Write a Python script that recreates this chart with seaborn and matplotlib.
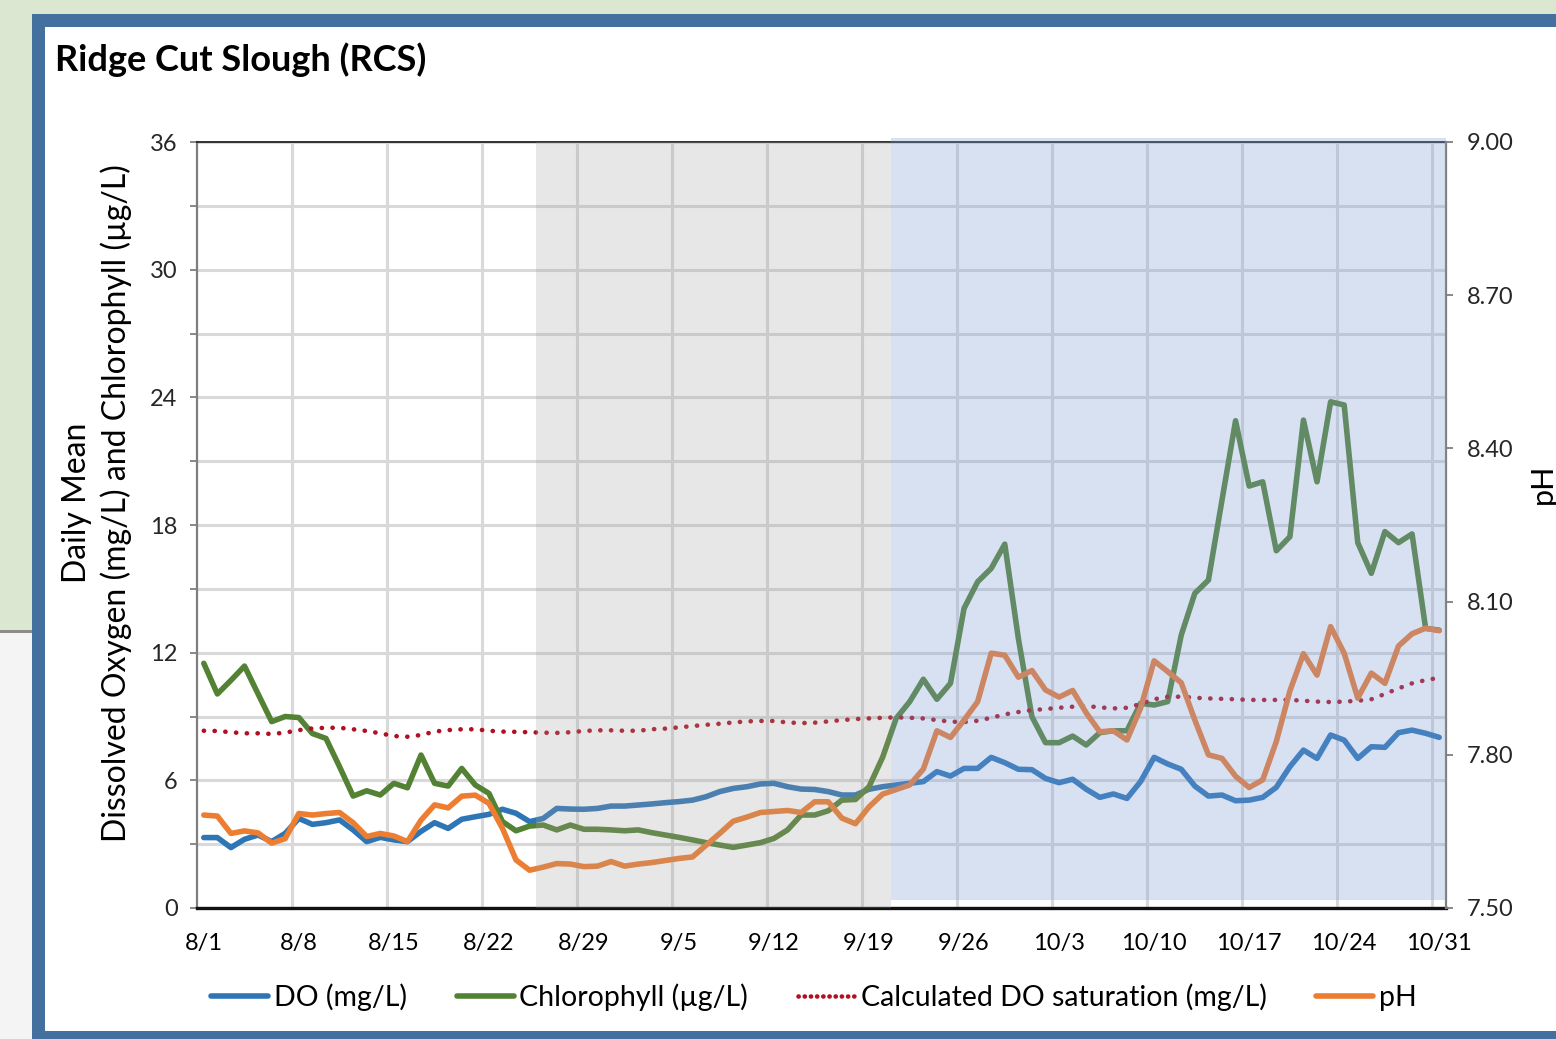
import numpy as np
import pandas as pd
import matplotlib
matplotlib.use("Agg")
import matplotlib.pyplot as plt
import matplotlib.transforms as mtransforms
from matplotlib.patches import Rectangle
from matplotlib.lines import Line2D
import seaborn as sns

# ---------------- data ----------------
dates = pd.date_range("2021-08-01", "2021-10-31", freq="D")
tick_labels = ["8/1", "8/8", "8/15", "8/22", "8/29", "9/5", "9/12", "9/19",
               "9/26", "10/3", "10/10", "10/17", "10/24", "10/31"]

do_mgl = [3.31, 3.31, 2.84, 3.23, 3.43, 3.12, 3.51, 4.21, 3.93, 4.01,
          4.14, 3.67, 3.12, 3.32, 3.20, 3.12, 3.60, 4.01, 3.74, 4.17,
          4.29, 4.40, 4.64, 4.45, 4.06, 4.21, 4.68, 4.65, 4.64, 4.68,
          4.79, 4.79, 4.84, 4.89, 4.95, 5.00, 5.07, 5.23, 5.47, 5.62,
          5.70, 5.83, 5.86, 5.70, 5.59, 5.57, 5.47, 5.31, 5.31, 5.58,
          5.70, 5.78, 5.86, 5.94, 6.41, 6.20, 6.56, 6.56, 7.08, 6.83,
          6.52, 6.50, 6.09, 5.89, 6.05, 5.58, 5.20, 5.36, 5.15, 5.94,
          7.08, 6.77, 6.52, 5.73, 5.26, 5.31, 5.04, 5.07, 5.20, 5.67,
          6.64, 7.42, 7.03, 8.13, 7.89, 7.03, 7.58, 7.55, 8.24, 8.36,
          8.21, 8.02]

chlorophyll = [11.50, 10.06, 10.70, 11.37, 10.06, 8.76, 9.00, 8.95, 8.20, 7.97,
               6.64, 5.26, 5.51, 5.31, 5.86, 5.65, 7.19, 5.86, 5.73, 6.56,
               5.78, 5.39, 4.06, 3.63, 3.85, 3.90, 3.67, 3.90, 3.70, 3.70,
               3.67, 3.63, 3.67, 3.54, 3.43, 3.32, 3.20, 3.07, 2.96, 2.85,
               2.96, 3.07, 3.27, 3.67, 4.37, 4.37, 4.57, 5.07, 5.10, 5.70,
               7.08, 8.91, 9.70, 10.75, 9.81, 10.56, 14.08, 15.33, 15.96, 17.10,
               12.67, 8.99, 7.77, 7.77, 8.08, 7.66, 8.24, 8.33, 8.33, 9.62,
               9.54, 9.70, 12.83, 14.79, 15.41, 19.17, 22.90, 19.83, 20.03, 16.79,
               17.45, 22.93, 20.03, 23.79, 23.64, 17.17, 15.73, 17.69, 17.17, 17.58,
               13.14, 13.06]

do_saturation = [8.33, 8.32, 8.26, 8.21, 8.21, 8.18, 8.24, 8.36, 8.44, 8.47,
                 8.47, 8.40, 8.32, 8.21, 8.08, 8.05, 8.13, 8.29, 8.36, 8.40,
                 8.40, 8.33, 8.29, 8.28, 8.26, 8.24, 8.23, 8.26, 8.32, 8.35,
                 8.35, 8.33, 8.33, 8.40, 8.43, 8.49, 8.55, 8.61, 8.66, 8.72,
                 8.77, 8.79, 8.79, 8.72, 8.69, 8.71, 8.77, 8.83, 8.88, 8.91,
                 8.94, 8.96, 8.94, 8.91, 8.83, 8.76, 8.74, 8.80, 8.94, 9.10,
                 9.21, 9.30, 9.35, 9.41, 9.46, 9.49, 9.43, 9.38, 9.41, 9.59,
                 9.81, 9.93, 9.93, 9.88, 9.85, 9.83, 9.81, 9.78, 9.78, 9.78,
                 9.78, 9.74, 9.70, 9.68, 9.70, 9.74, 9.81, 10.06, 10.32, 10.56,
                 10.71, 10.82]

ph = [7.682, 7.680, 7.646, 7.651, 7.647, 7.627, 7.636, 7.685, 7.682, 7.685,
      7.687, 7.667, 7.640, 7.646, 7.641, 7.630, 7.672, 7.702, 7.696, 7.719,
      7.721, 7.705, 7.656, 7.594, 7.574, 7.580, 7.587, 7.586, 7.581, 7.582,
      7.591, 7.582, 7.586, 7.589, 7.593, 7.597, 7.600, 7.623, 7.646, 7.670,
      7.678, 7.687, 7.689, 7.691, 7.687, 7.708, 7.708, 7.676, 7.665, 7.698,
      7.723, 7.732, 7.741, 7.772, 7.847, 7.834, 7.868, 7.904, 7.999, 7.995,
      7.952, 7.965, 7.927, 7.913, 7.926, 7.882, 7.845, 7.847, 7.829, 7.891,
      7.984, 7.963, 7.941, 7.868, 7.800, 7.793, 7.758, 7.736, 7.751, 7.826,
      7.925, 7.998, 7.956, 8.051, 7.999, 7.911, 7.960, 7.940, 8.013, 8.037,
      8.048, 8.043]

df = pd.DataFrame({
    "date": dates,
    "DO": do_mgl,
    "Chl": chlorophyll,
    "DOsat": do_saturation,
    "pH": ph,
})
df["day"] = (df["date"] - df["date"].iloc[0]).dt.days

# ---------------- style ----------------
sns.set_theme(style="white")
plt.rcParams['font.family'] = ['Lato', 'DejaVu Sans']
plt.rcParams['text.color'] = '#000000'

C_DO = '#2E75B6'
C_CHL = '#548235'
C_SAT = '#B01020'
C_PH = '#ED7D31'
LW = 4.0

W, H = 1556, 1039
fig = plt.figure(figsize=(W / 100, H / 100), dpi=100)
fig.patch.set_facecolor('#DCE7D1')


def fig_rect(x0, y0, x1, y1, **kw):
    r = Rectangle((x0 / W, 1 - y1 / H), (x1 - x0) / W, (y1 - y0) / H,
                  transform=fig.transFigure, zorder=-10, **kw)
    fig.patches.append(r)
    return r


# page / frame decoration
fig_rect(0, 632, 32, H, facecolor='#F4F4F4', edgecolor='none')
fig_rect(0, 630, 32, 633, facecolor='#8C8C8C', edgecolor='none')
fig_rect(32, 14, W + 5, H + 5, facecolor='#4470A0', edgecolor='none')
fig_rect(45, 27, W + 5, 1031, facecolor='white', edgecolor='none')

# ---------------- axes ----------------
X0, X1, Y0, Y1 = 197, 1446, 142, 908
ax = fig.add_axes([X0 / W, 1 - Y1 / H, (X1 - X0) / W, (Y1 - Y0) / H])
ax.set_zorder(1)
ax.set_facecolor('none')
ax.set_axisbelow(True)

sns.lineplot(data=df, x="day", y="DO", ax=ax, color=C_DO, lw=LW, legend=False, zorder=3)
sns.lineplot(data=df, x="day", y="Chl", ax=ax, color=C_CHL, lw=LW, legend=False, zorder=3)
sat_line = sns.lineplot(data=df, x="day", y="DOsat", ax=ax, color=C_SAT, lw=3.3,
                        legend=False, zorder=3).lines[-1]
sat_line.set_linestyle((0, (0.05, 2.3)))
sat_line.set_dash_capstyle('round')

ax.set_xlim(-0.5, 91.5)
ax.set_ylim(0, 36)
ax.set_xlabel("")
ax.set_ylabel("")

day_ticks = df["day"].values[::7]
ax.set_xticks(day_ticks)
ax.set_xticklabels(tick_labels)
ax.set_xticks(np.arange(6.5, 91, 7), minor=True)
ax.tick_params(axis='x', which='both', length=0, labelsize=17, pad=18, colors='#000000')
ax.xaxis.grid(True, which='minor', color='#D9D9D9', lw=2.2)
ax.xaxis.grid(False, which='major')

ax.set_yticks(np.arange(0, 37, 3))
ax.set_yticklabels([str(v) if v % 6 == 0 else "" for v in range(0, 37, 3)])
ax.tick_params(axis='y', length=5, width=1.3, color='#7F7F7F', labelsize=17, pad=9,
               direction='out', left=True)
ax.yaxis.grid(True, color='#D9D9D9', lw=2.2)

ax.spines['left'].set_color('#7F7F7F')
ax.spines['left'].set_linewidth(1.6)
ax.spines['bottom'].set_color('#111111')
ax.spines['bottom'].set_linewidth(2.4)
ax.spines['top'].set_color('#222222')
ax.spines['top'].set_linewidth(1.3)
ax.spines['right'].set_visible(False)

ax2 = ax.twinx()
ax2.set_zorder(2)
ax2.set_facecolor('none')
sns.lineplot(data=df, x="day", y="pH", ax=ax2, color=C_PH, lw=LW, legend=False, zorder=3)
ax2.set_ylim(7.5, 9.0)
ax2.set_xlim(-0.5, 91.5)
ax2.set_ylabel("")
ax2.set_yticks([7.5, 7.8, 8.1, 8.4, 8.7, 9.0])
ax2.set_yticklabels([f"{v:.2f}" for v in [7.5, 7.8, 8.1, 8.4, 8.7, 9.0]])
ax2.tick_params(axis='y', length=5, width=1.3, color='#7F7F7F', labelsize=17, pad=10,
                direction='out', right=True)
for s in ['left', 'top', 'bottom']:
    ax2.spines[s].set_visible(False)
ax2.spines['right'].set_color('#7F7F7F')
ax2.spines['right'].set_linewidth(1.6)

# translucent period shading drawn over the data
blend = mtransforms.blended_transform_factory(ax2.transData, ax2.transAxes)
ax2.add_patch(Rectangle((24.45, 0.0), 50.6 - 24.45, 1.0, transform=blend,
                        facecolor='#A0A0A0', alpha=0.25, edgecolor='none', zorder=10))
ax2.add_patch(Rectangle((50.6, 0.0104), 91.5 - 50.6, 0.995, transform=blend,
                        facecolor='#809ED7', alpha=0.30, edgecolor='none', zorder=10,
                        clip_on=False))

# ---------------- text ----------------
fig.text(55 / W, 1 - 60 / H, "Ridge Cut Slough (RCS)", fontsize=26, fontweight='bold',
         ha='left', va='center')
fig.text(97 / W, 1 - 503 / H,
         "Daily Mean\nDissolved Oxygen (mg/L) and Chlorophyll (µg/L)",
         rotation=90, fontsize=23, ha='center', va='center', multialignment='center',
         linespacing=1.35)
fig.text(1543 / W, 1 - 484 / H, "pH", rotation=90, fontsize=22, ha='center', va='center')

handles = [
    Line2D([], [], color=C_DO, lw=LW),
    Line2D([], [], color=C_CHL, lw=LW),
    Line2D([], [], color=C_SAT, lw=3.3, linestyle=(0, (0.05, 1.3)), dash_capstyle='round'),
    Line2D([], [], color=C_PH, lw=LW),
]
labels = ["DO (mg/L)", "Chlorophyll (µg/L)", "Calculated DO saturation (mg/L)", "pH"]
fig.legend(handles, labels, loc='center', bbox_to_anchor=(814 / W, 1 - 997 / H),
           ncol=4, frameon=False, fontsize=20.5, handlelength=2.0, handletextpad=0.2,
           columnspacing=1.75)

fig.savefig("out.png", dpi=100, facecolor=fig.get_facecolor())
